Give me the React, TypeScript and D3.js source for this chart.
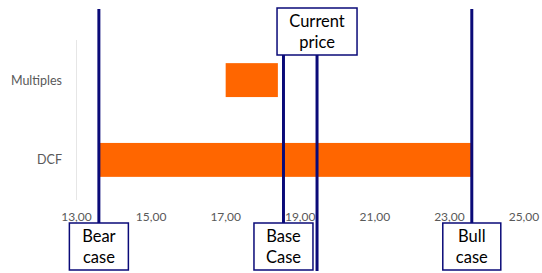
import React from "react";
import * as d3 from "d3";

const categories = ["Multiples", "DCF"];
const lowValues = [17.0, 13.6];
const highValues = [18.4, 23.6];
const tickValues = [13, 15, 17, 19, 21, 23, 25];
const markerNames = ["Bear case", "Base Case", "Current price", "Bull case"];
const markerValues = [13.6, 18.55, 19.45, 23.6];

const W = 542;
const H = 273;
const NAVY = "#0a0a78";
const ORANGE = "#ff6600";
const FONT = "Lato, 'Open Sans', sans-serif";

export default function App() {
  const x = d3.scaleLinear().domain([13, 25]).range([76.5, 524]);
  const y = d3.scaleBand<string>().domain(categories).range([40, 200]).paddingInner(0.575).paddingOuter(0.29);
  const fmt = (v: number) => v.toFixed(2).replace(".", ",");

  const layout: Record<string, { top: number; bottom: number; boxY: number; boxW: number }> = {
    "Bear case": { top: 9, bottom: 223, boxY: 223, boxW: 59 },
    "Base Case": { top: 55, bottom: 223, boxY: 223, boxW: 59 },
    "Current price": { top: 55, bottom: 271, boxY: 8, boxW: 80 },
    "Bull case": { top: 9, bottom: 223, boxY: 223, boxW: 58 },
  };

  return (
    <svg width={W} height={H} style={{ position: "absolute", left: 0, top: 0, background: "#fff" }}>
      <rect width={W} height={H} fill="#fff" />
      <line x1={x(13)} x2={x(13)} y1={40} y2={200} stroke="#e6e6e6" strokeWidth={1} />
      {categories.map((c, i) => (
        <g key={c}>
          <rect
            x={x(lowValues[i])}
            y={y(c)!}
            width={x(highValues[i]) - x(lowValues[i])}
            height={y.bandwidth()}
            fill={ORANGE}
          />
          <text
            x={62}
            y={y(c)! + y.bandwidth() / 2}
            textAnchor="end"
            dominantBaseline="central"
            fontFamily={FONT}
            fontSize={12.5}
            fill="#595959"
          >
            {c}
          </text>
        </g>
      ))}
      {tickValues.map((t) => (
        <text key={t} x={x(t)} y={221} textAnchor="middle" fontFamily={FONT} fontSize={12} fill="#595959">
          {fmt(t)}
        </text>
      ))}
      {markerNames.map((m, i) => {
        const L = layout[m];
        const cx = x(markerValues[i]);
        const words = m.split(" ");
        const boxH = 47;
        return (
          <g key={m}>
            <line x1={cx} x2={cx} y1={L.top} y2={L.bottom} stroke={NAVY} strokeWidth={3} />
            <rect
              x={cx - L.boxW / 2}
              y={L.boxY}
              width={L.boxW}
              height={boxH}
              fill="#fff"
              stroke={NAVY}
              strokeWidth={1.5}
            />
            {words.map((w, j) => (
              <text
                key={w}
                x={cx}
                y={L.boxY + 19 + j * 21}
                textAnchor="middle"
                fontFamily={FONT}
                fontSize={16.5}
                fill="#000"
              >
                {w}
              </text>
            ))}
          </g>
        );
      })}
    </svg>
  );
}
